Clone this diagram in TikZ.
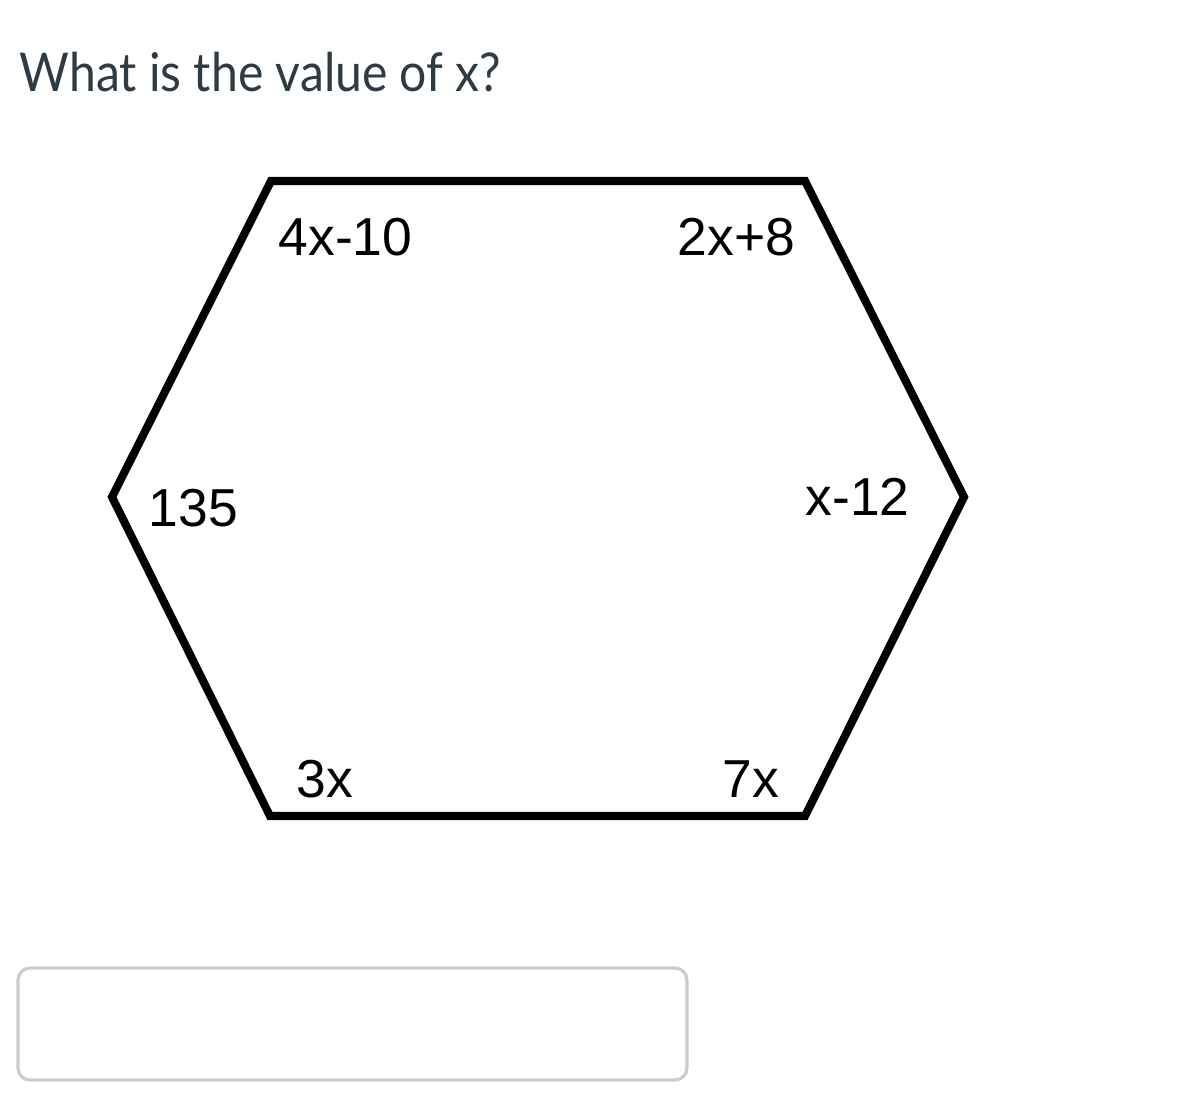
\documentclass[tikz,border=0pt]{standalone}
\usepackage{fontspec}
\setmainfont{Lato}
\newfontfamily\titlefont[FakeStretch=0.9]{Lato}
\newfontfamily\labelfont{Liberation Sans}
\usetikzlibrary{positioning}
\definecolor{titlegray}{HTML}{2D3B45}
\definecolor{boxgray}{HTML}{C7CDD1}
\tikzset{
  question/.style={anchor=base west, inner sep=0pt, text=titlegray, font=\titlefont\fontsize{15.2pt}{18pt}\selectfont},
  hexlabel/.style={anchor=base west, inner sep=0pt, text=black, font=\labelfont\fontsize{15.2pt}{18pt}\selectfont},
  hexside/.style={line width=2.3pt, line join=miter, draw=black},
  answer/.style={draw=boxgray, line width=0.9pt, rounded corners=1.2mm, fill=white}
}
\begin{document}
\begin{tikzpicture}[x=0.01cm, y=-0.01cm]
	\useasboundingbox (0,0) rectangle (1183,1115);
	\node[question] (title) at (19,91) {What is the value of x?};
	%
	\coordinate (tl) at (271,181);
	\coordinate (tr) at (805,181);
	\coordinate (r) at (964,497);
	\coordinate (br) at (805,816);
	\coordinate (bl) at (270,816);
	\coordinate (l) at (112,497);
	\draw[hexside] (tl) -- (tr) -- (r) -- (br) -- (bl) -- (l) -- cycle;
	%
	\node[hexlabel] (angtl) at (278,255) {4x-10};
	\node[hexlabel] (angtr) at (677,255) {2x+8};
	\node[hexlabel] (angl) at (148,526) {135};
	\node[hexlabel] (angr) at (805,515) {x-12};
	\node[hexlabel] (angbl) at (296,797) {3x};
	\node[hexlabel] (angbr) at (722,797) {7x};
	%
	\draw[answer] (18,968) rectangle (687,1080);
\end{tikzpicture}
\end{document}
